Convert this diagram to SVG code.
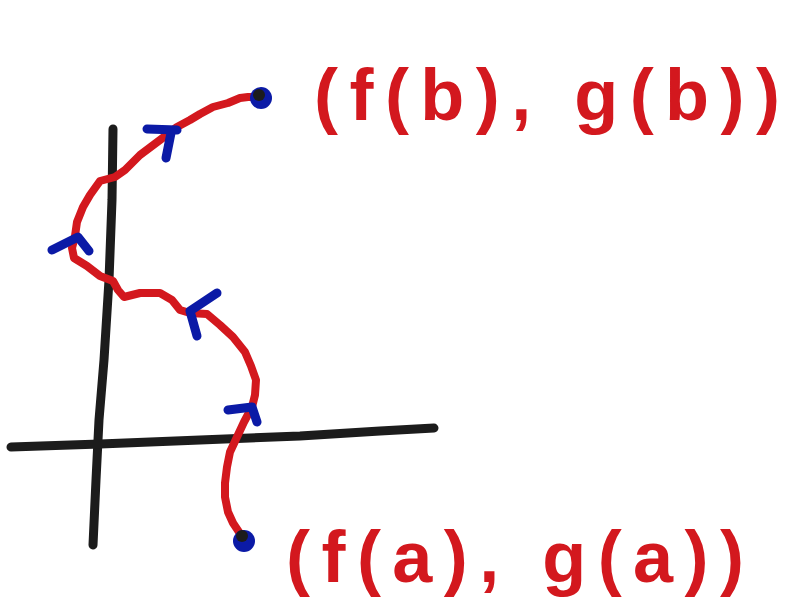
<svg xmlns="http://www.w3.org/2000/svg" width="791" height="610" viewBox="0 0 791 610">
<style>
.ax{fill:none;stroke:#1c1c1c;stroke-width:9;stroke-linecap:round;stroke-linejoin:round}
.crv{fill:none;stroke:#d3181e;stroke-width:8;stroke-linecap:round;stroke-linejoin:round}
.tk{fill:none;stroke:#0b1aa6;stroke-width:9;stroke-linecap:round;stroke-linejoin:round}
.lbl{fill:#d3181e;font-family:"Liberation Sans",Arial,sans-serif;font-weight:bold;font-size:72px}
</style>
<rect width="791" height="610" fill="#ffffff"/>
<g id="axes">
<path class="ax" d="M113,129 L112,200 L109,280 L104,360 L99,420 L96,480 L93,545"/>
<path class="ax" d="M11,447 L100,444 L200,440 L300,436 L380,431 L434,428"/>
</g>
<g id="curve">
<path class="crv" d="M261,97 L248,97 L240,98 L228,103 L213,107 L200,114 L190,120 L177,127 L160,140 L140,155 L125,170 L115,177 L100,181 L90,195 L83,207 L77,222 L75,236 L72,248 L74,258 L87,266 L100,276 L113,281 L118,290 L124,297 L140,293 L160,293 L172,300 L180,310 L190,313 L207,314 L220,325 L233,337 L245,352 L251,366 L256,380 L255,395 L252,407 L244,422 L237,437 L230,452 L227,467 L225,483 L225,497 L228,512 L233,523 L243,538"/>
</g>
<g id="ticks">
<path class="tk" d="M147,129 L177,130 M171,133 L166,158"/>
<path class="tk" d="M52,250 L78,237 L89,251"/>
<path class="tk" d="M217,293 L190,311 L197,336"/>
<path class="tk" d="M228,410 L252,407 L257,422"/>
</g>
<g id="endpoints">
<circle cx="261" cy="98" r="11" fill="#0b1aa6"/>
<circle cx="259" cy="95" r="6" fill="#1c1c1c"/>
<circle cx="244" cy="541" r="11" fill="#0b1aa6"/>
<circle cx="242" cy="536" r="6" fill="#1c1c1c"/>
</g>
<g id="labels">
<text class="lbl" x="314" y="120" textLength="466" lengthAdjust="spacing">(f(b), g(b))</text>
<text class="lbl" x="286" y="582" textLength="458" lengthAdjust="spacing">(f(a), g(a))</text>
</g>
</svg>
